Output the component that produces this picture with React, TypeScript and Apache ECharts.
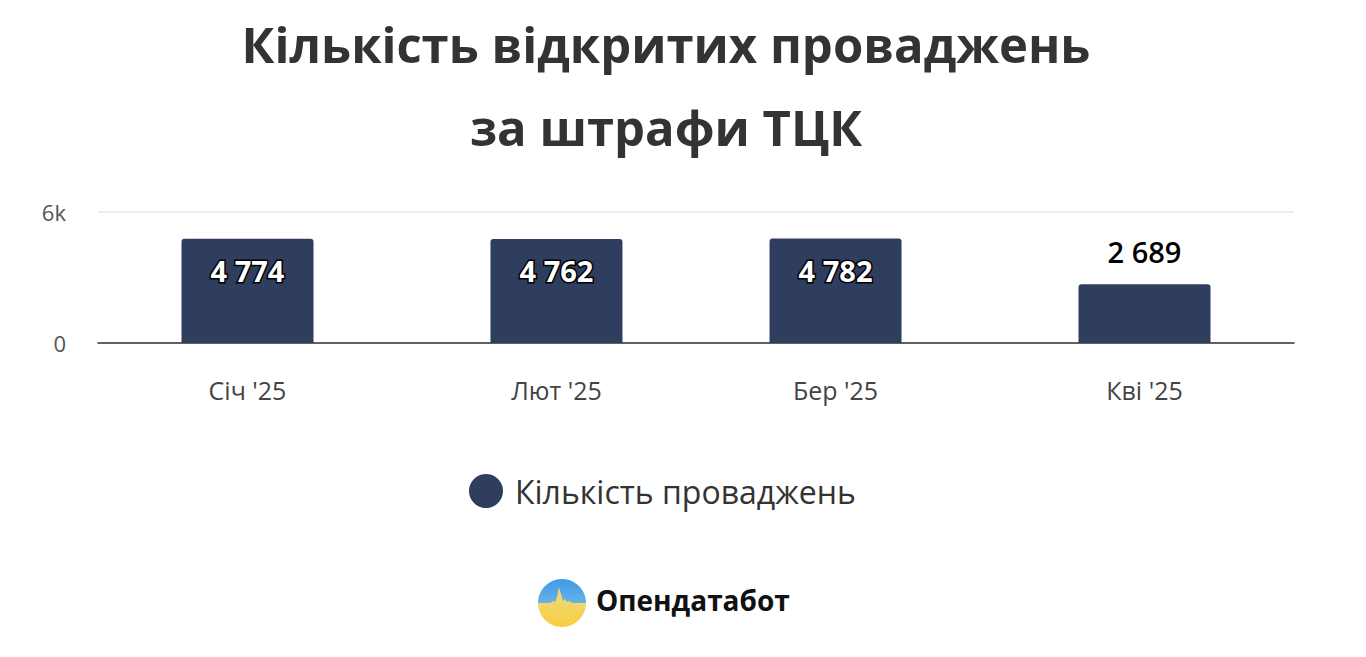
import React, { useEffect, useRef } from "react";
import * as echarts from "echarts";

const titleLines = ["Кількість відкритих проваджень", "за штрафи ТЦК"];
const dates = ["2025-01-01", "2025-02-01", "2025-03-01", "2025-04-01"];
const monthLabels = ["Січ '25", "Лют '25", "Бер '25", "Кві '25"];
const values = [4774, 4762, 4782, 2689];
const insideLabel = [true, true, true, false];
const seriesName = "Кількість проваджень";
const yTicks = [0, 6000];
const yTickLabels = ["0", "6k"];
const brand = "Опендатабот";
const axisStart = "2024-12-17";
const axisEnd = "2025-04-16";

function dayNum(s: string) {
  const [y, m, d] = s.split("-").map(Number);
  return Math.round(Date.UTC(y, m - 1, d) / 86400000);
}

function fmt(v: number) {
  return String(v).replace(/\B(?=(\d{3})+(?!\d))/g, " ");
}

export default function App() {
  const ref = useRef<HTMLDivElement>(null);
  useEffect(() => {
    if (!ref.current) return;
    const chart = echarts.init(ref.current, null, { renderer: "svg" });
    const ds = dates.map(dayNum);
    const font = "'Open Sans', 'Noto Sans', sans-serif";
    chart.setOption({
      animation: false,
      backgroundColor: "#ffffff",
      textStyle: { fontFamily: font },
      title: {
        text: titleLines.join("\n"),
        left: 661,
        textAlign: "center",
        top: -3,
        textStyle: {
          fontFamily: font,
          fontSize: 49,
          fontWeight: "bold",
          color: "#333333",
          lineHeight: 83,
        },
      },
      grid: { left: 98, right: 72, top: 212, bottom: 314, containLabel: false },
      xAxis: {
        type: "value",
        min: dayNum(axisStart),
        max: dayNum(axisEnd),
        axisLine: { show: true, onZero: false, lineStyle: { color: "#333333", width: 1.5 } },
        axisTick: { show: false },
        splitLine: { show: false },
        axisLabel: {
          customValues: ds,
          showMinLabel: true,
          showMaxLabel: true,
          hideOverlap: false,
          margin: 34,
          fontSize: 25,
          color: "#444444",
          fontFamily: font,
          formatter: (v: number) => {
            const i = ds.indexOf(v);
            return i >= 0 ? monthLabels[i] : "";
          },
        },
      },
      yAxis: {
        type: "value",
        min: yTicks[0],
        max: yTicks[1],
        interval: yTicks[1] - yTicks[0],
        axisLine: { show: false },
        axisTick: { show: false },
        splitLine: { show: true, lineStyle: { color: "#e6e6e6", width: 1.5 } },
        axisLabel: {
          margin: 32,
          fontSize: 22,
          color: "#555555",
          fontFamily: font,
          formatter: (v: number) => yTickLabels[yTicks.indexOf(v)] ?? "",
        },
      },
      legend: {
        data: [seriesName],
        left: 464,
        top: 469,
        icon: "circle",
        itemWidth: 34,
        itemHeight: 34,
        itemGap: 10,
        textStyle: { fontSize: 32, color: "#333333", fontFamily: font, padding: [0, 0, 0, 7] },
      },
      series: [
        {
          name: seriesName,
          type: "bar",
          barWidth: 132,
          itemStyle: { color: "#2f3e5e", borderRadius: [3, 3, 0, 0] },
          data: ds.map((t, i) => ({
            value: [t, values[i]],
            label: insideLabel[i]
              ? {
                  show: true,
                  position: "insideTop",
                  distance: 17,
                  color: "#ffffff",
                  fontSize: 29,
                  fontWeight: "bold",
                  textBorderColor: "#000000",
                  textBorderWidth: 3,
                  fontFamily: font,
                  formatter: fmt(values[i]),
                }
              : {
                  show: true,
                  position: "top",
                  distance: 18,
                  color: "#000000",
                  fontSize: 29,
                  fontWeight: 600,
                  fontFamily: font,
                  formatter: fmt(values[i]),
                },
          })),
        },
      ],
      graphic: [
        {
          type: "group",
          left: 538,
          top: 579,
          children: [
            {
              type: "circle",
              shape: { cx: 24, cy: 24, r: 24 },
              style: {
                fill: new echarts.graphic.LinearGradient(0, 0, 0, 1, [
                  { offset: 0, color: "#3d9be6" },
                  { offset: 0.5, color: "#67b2e6" },
                  { offset: 0.5, color: "#f3d66a" },
                  { offset: 1, color: "#f6cf3c" },
                ]),
              },
            },
            {
              type: "polygon",
              shape: {
                points: [
                  [12, 24.5], [15, 22], [17, 23], [19, 18], [21, 8], [23, 15], [25, 22], [27, 20], [29, 23], [32, 22], [34, 24.5],
                ],
              },
              style: { fill: "#f3d66a" },
            },
          ],
        },
        {
          type: "text",
          left: 596,
          top: 586,
          style: {
            text: brand,
            fontSize: 28,
            fontWeight: "bold",
            fill: "#111111",
            fontFamily: font,
          },
        },
      ],
    });
    return () => chart.dispose();
  }, []);
  return (
    <div
      ref={ref}
      style={{ position: "fixed", left: 0, top: 0, width: 1366, height: 657 }}
    />
  );
}
